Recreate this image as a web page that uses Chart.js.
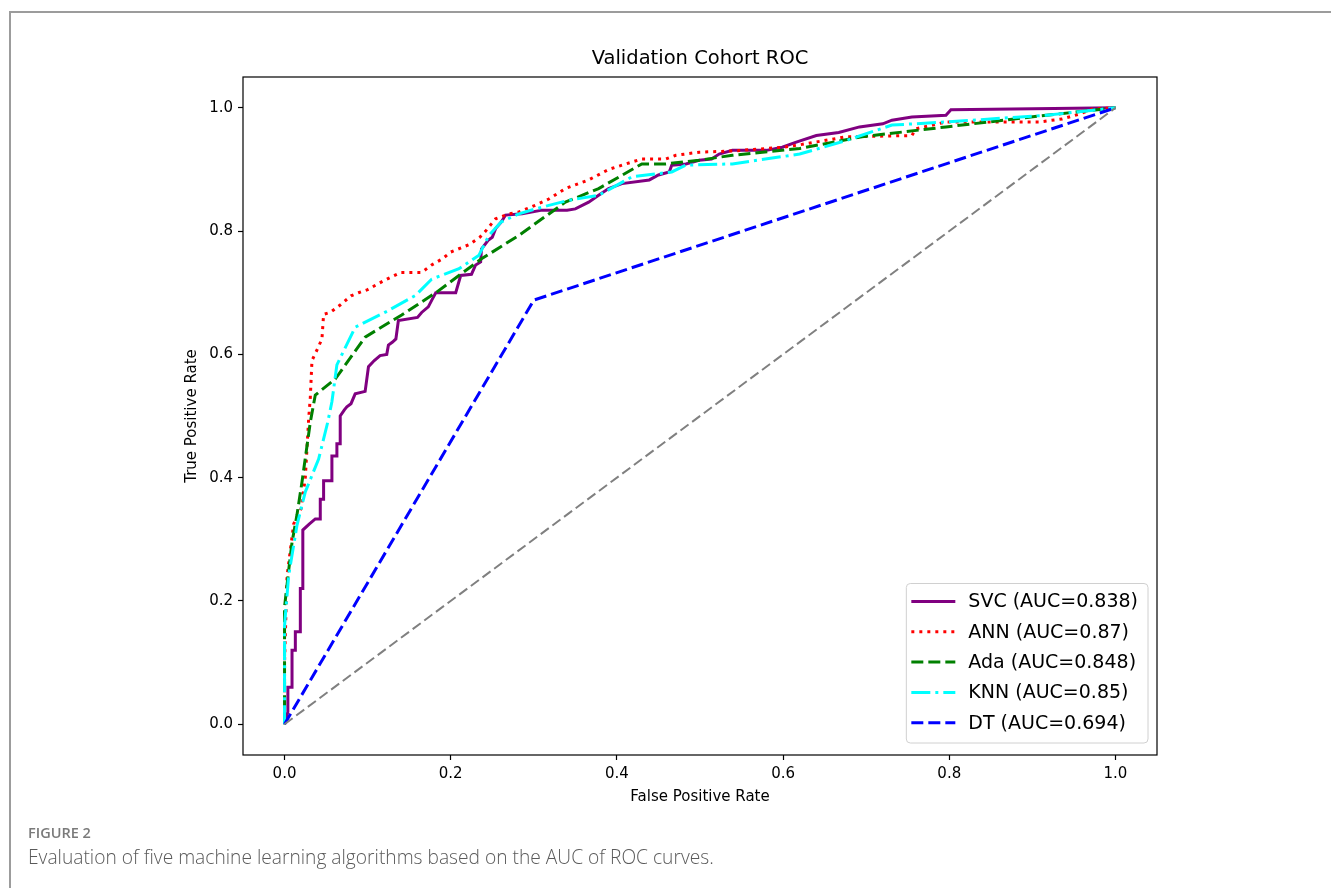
<!DOCTYPE html>
<html>
<head>
<meta charset="utf-8">
<title>Validation Cohort ROC</title>
<script src="https://cdn.jsdelivr.net/npm/chart.js@4.4.1/dist/chart.umd.min.js"></script>
<style>
  html, body { margin: 0; padding: 0; background: #fff; }
  #page { position: relative; width: 1331px; height: 888px; overflow: hidden; }
  #frame { position: absolute; left: 9px; top: 11px; right: -5px; bottom: -5px;
           border-top: 2px solid #9c9c9c; border-left: 2px solid #9c9c9c; }
  #roc { position: absolute; left: 0; top: 0; }
  .fig-label { position: absolute; left: 28px; top: 823px; font-family: "Open Sans", sans-serif;
               font-size: 14.5px; font-weight: 600; color: #7a7a7a; }
  .fig-caption { position: absolute; left: 28px; top: 843px; font-family: "Open Sans", sans-serif;
                 font-size: 19.2px; font-weight: 300; color: #5a5a5a; }
</style>
</head>
<body>
<div id="page">
  <div id="frame"></div>
  <canvas id="roc" width="1331" height="888"></canvas>
  <div class="fig-label">FIGURE 2</div>
  <div class="fig-caption">Evaluation of five machine learning algorithms based on the AUC of ROC curves.</div>
</div>
<script>
// tick positions on both axes
var xTicks = [0, 0.2, 0.4, 0.6, 0.8, 1.0];
var yTicks = [0, 0.2, 0.4, 0.6, 0.8, 1.0];

// SVC (step curve, corners)
var svcFpr = [0, 0.004, 0.004, 0.009, 0.009, 0.013, 0.013, 0.019, 0.019, 0.022, 0.022, 0.03, 0.037, 0.043, 0.043,
  0.047, 0.047, 0.057, 0.057, 0.063, 0.063, 0.067, 0.067, 0.072, 0.075, 0.08, 0.085, 0.097, 0.101, 0.108,
  0.115, 0.123, 0.125, 0.13, 0.134, 0.137, 0.16, 0.165, 0.173, 0.178, 0.182, 0.206, 0.212, 0.225, 0.23,
  0.236, 0.237, 0.245, 0.25, 0.254, 0.261, 0.266, 0.286, 0.31, 0.34, 0.35, 0.366, 0.378, 0.39, 0.406,
  0.439, 0.45, 0.463, 0.466, 0.483, 0.499, 0.514, 0.523, 0.539, 0.58, 0.599, 0.615, 0.64, 0.667, 0.692,
  0.72, 0.731, 0.755, 0.796, 0.802, 1.0];
var svcTpr = [0, 0.02, 0.06, 0.06, 0.12, 0.12, 0.15, 0.15, 0.22, 0.22, 0.315, 0.325, 0.333, 0.333, 0.365,
  0.365, 0.395, 0.395, 0.435, 0.435, 0.455, 0.455, 0.50, 0.51, 0.515, 0.52, 0.536, 0.54, 0.58, 0.59,
  0.598, 0.60, 0.615, 0.62, 0.625, 0.655, 0.66, 0.668, 0.677, 0.69, 0.70, 0.70, 0.728, 0.73, 0.745,
  0.75, 0.771, 0.785, 0.79, 0.804, 0.815, 0.826, 0.828, 0.834, 0.834, 0.836, 0.847, 0.858, 0.869, 0.877,
  0.883, 0.891, 0.896, 0.907, 0.909, 0.915, 0.917, 0.925, 0.931, 0.931, 0.936, 0.944, 0.955, 0.96, 0.969,
  0.974, 0.98, 0.985, 0.988, 0.997, 1.0];

// ANN
var annFpr = [0, 0, 0.003, 0.011, 0.02, 0.025, 0.029, 0.031, 0.033, 0.04, 0.045, 0.047, 0.055, 0.067, 0.08,
  0.089, 0.1, 0.12, 0.14, 0.165, 0.177, 0.19, 0.2, 0.222, 0.235, 0.242, 0.254, 0.27, 0.282, 0.302, 0.318,
  0.338, 0.366, 0.39, 0.418, 0.43, 0.459, 0.471, 0.499, 0.54, 0.6, 0.62, 0.676, 0.755, 0.76, 0.796, 0.908,
  0.936, 0.957, 0.972, 1.0];
var annTpr = [0, 0.1, 0.24, 0.325, 0.35, 0.40, 0.495, 0.53, 0.59, 0.61, 0.625, 0.665, 0.668, 0.68, 0.695,
  0.70, 0.705, 0.72, 0.733, 0.733, 0.745, 0.755, 0.766, 0.778, 0.79, 0.80, 0.82, 0.828, 0.831, 0.842, 0.852,
  0.869, 0.883, 0.90, 0.912, 0.917, 0.917, 0.923, 0.928, 0.93, 0.936, 0.94, 0.953, 0.955, 0.966, 0.977, 0.977,
  0.982, 0.99, 0.998, 1.0];

// AdaBoost
var adaFpr = [0, 0, 0.005, 0.009, 0.015, 0.021, 0.031, 0.037, 0.061, 0.097, 0.141, 0.182, 0.237, 0.282,
  0.338, 0.378, 0.43, 0.459, 0.499, 0.539, 0.62, 0.695, 0.796, 0.917, 1.0];
var adaTpr = [0, 0.19, 0.25, 0.295, 0.34, 0.393, 0.49, 0.534, 0.56, 0.628, 0.664, 0.70, 0.755, 0.793,
  0.847, 0.869, 0.909, 0.909, 0.915, 0.923, 0.934, 0.953, 0.969, 0.988, 1.0];

// KNN
var knnFpr = [0, 0, 0.005, 0.015, 0.025, 0.041, 0.052, 0.057, 0.063, 0.085, 0.122, 0.158, 0.177, 0.21,
  0.234, 0.246, 0.261, 0.282, 0.302, 0.342, 0.378, 0.418, 0.466, 0.483, 0.539, 0.62, 0.676, 0.731, 0.796,
  0.917, 1.0];
var knnTpr = [0, 0.16, 0.242, 0.323, 0.377, 0.43, 0.49, 0.523, 0.583, 0.644, 0.669, 0.696, 0.722, 0.739,
  0.761, 0.793, 0.815, 0.828, 0.836, 0.85, 0.858, 0.888, 0.896, 0.907, 0.909, 0.925, 0.947, 0.972, 0.977,
  0.988, 1.0];

// Decision tree
var dtFpr = [0, 0.3, 1.0];
var dtTpr = [0, 0.688, 1.0];

// chance line
var chanceFpr = [0, 1];
var chanceTpr = [0, 1];

var labels = ['SVC (AUC=0.838)', 'ANN (AUC=0.87)', 'Ada (AUC=0.848)', 'KNN (AUC=0.85)', 'DT (AUC=0.694)'];
var chartTitle = 'Validation Cohort ROC';

function toPoints(xs, ys) {
  return xs.map(function (x, i) { return { x: x, y: ys[i] }; });
}

var FONT = '"DejaVu Sans", sans-serif';

// box around the plotting area (matplotlib spines) and the title centred over it
var axesFrame = {
  id: 'axesFrame',
  afterDatasetsDraw: function (chart) {
    var a = chart.chartArea, ctx = chart.ctx;
    ctx.save();
    ctx.strokeStyle = '#000';
    ctx.lineWidth = 1.2;
    ctx.strokeRect(a.left, a.top, a.right - a.left, a.bottom - a.top);
    ctx.fillStyle = '#000';
    ctx.font = '19.5px ' + FONT;
    ctx.textAlign = 'center';
    ctx.textBaseline = 'middle';
    ctx.fillText(chartTitle, (a.left + a.right) / 2, a.top - 18);
    ctx.restore();
  }
};

// legend drawn inside the axes, lower right
var insideLegend = {
  id: 'insideLegend',
  afterDraw: function (chart) {
    var ctx = chart.ctx, a = chart.chartArea;
    var items = chart.data.datasets.filter(function (d) { return d.showInLegend; });
    ctx.save();
    ctx.font = '19px ' + FONT;
    var textW = Math.max.apply(null, items.map(function (d) { return ctx.measureText(d.label).width; }));
    var rowH = 30.3;
    var w = 62 + textW + 10;
    var h = rowH * items.length + 8;
    var x = a.right - 9 - w;
    var y = a.bottom - 12 - h;
    ctx.beginPath();
    ctx.roundRect(x, y, w, h, 4);
    ctx.fillStyle = 'rgba(255,255,255,0.8)';
    ctx.fill();
    ctx.strokeStyle = '#d0d0d0';
    ctx.lineWidth = 1;
    ctx.stroke();
    items.forEach(function (d, i) {
      var cy = y + 18 + i * rowH;
      ctx.beginPath();
      ctx.setLineDash(d.borderDash || []);
      ctx.strokeStyle = d.borderColor;
      ctx.lineWidth = d.borderWidth;
      ctx.moveTo(x + 5, cy);
      ctx.lineTo(x + 49, cy);
      ctx.stroke();
      ctx.setLineDash([]);
      ctx.fillStyle = '#000';
      ctx.textAlign = 'left';
      ctx.textBaseline = 'middle';
      ctx.fillText(d.label, x + 62, cy + 1);
    });
    ctx.restore();
  }
};

function lineSet(label, xs, ys, color, dash, width, order) {
  return {
    label: label,
    data: toPoints(xs, ys),
    borderColor: color,
    borderDash: dash,
    borderWidth: width,
    pointRadius: 0,
    fill: false,
    tension: 0,
    order: order,
    showInLegend: true
  };
}

var datasets = [
  lineSet(labels[0], svcFpr, svcTpr, '#800080', [], 3, 6),
  lineSet(labels[1], annFpr, annTpr, '#ff0000', [3, 5], 3, 5),
  lineSet(labels[2], adaFpr, adaTpr, '#008000', [12, 5], 3, 4),
  lineSet(labels[3], knnFpr, knnTpr, '#00ffff', [19, 5, 3, 5], 3, 3),
  lineSet(labels[4], dtFpr, dtTpr, '#0000ff', [12, 5], 3, 2)
];
var chance = lineSet('', chanceFpr, chanceTpr, '#808080', [10, 4.5], 2, 1);
chance.showInLegend = false;
datasets.push(chance);

function axisOptions(ticks, titleText, fitSize, horizontal) {
  return {
    type: 'linear',
    min: -0.05,
    max: 1.05,
    afterBuildTicks: function (scale) {
      scale.ticks = ticks.map(function (v) { return { value: v }; });
    },
    afterFit: function (scale) {
      if (horizontal) { scale.height = fitSize; } else { scale.width = fitSize; }
    },
    ticks: {
      autoSkip: false,
      maxRotation: 0,
      padding: 5,
      color: '#000',
      font: { family: FONT, size: 15 },
      callback: function (v) { return Number(v).toFixed(1); }
    },
    grid: { drawOnChartArea: false, drawTicks: true, tickLength: 5, color: '#000', tickWidth: 1.2 },
    border: { display: false },
    title: {
      display: true,
      text: titleText,
      color: '#000',
      font: { family: FONT, size: 15 },
      padding: { top: 0, bottom: 4 }
    }
  };
}

var chart = new Chart(document.getElementById('roc').getContext('2d'), {
  type: 'line',
  data: { datasets: datasets },
  options: {
    responsive: false,
    animation: false,
    layout: { padding: { left: 183, right: 174, top: 77, bottom: 78 } },
    plugins: {
      legend: { display: false },
      tooltip: { enabled: false },
      title: { display: false }
    },
    scales: {
      x: axisOptions(xTicks, 'False Positive Rate', 55, true),
      y: axisOptions(yTicks, 'True Positive Rate', 60, false)
    }
  },
  plugins: [axesFrame, insideLegend]
});
</script>
</body>
</html>
